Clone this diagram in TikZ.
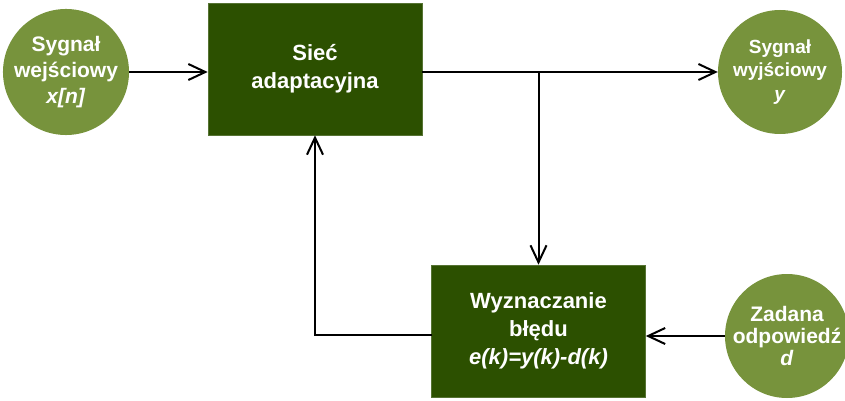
\documentclass[tikz,border=0pt]{standalone}
\usepackage{fontspec}
\setmainfont{Liberation Sans}
\usetikzlibrary{arrows.meta}
\definecolor{boxgreen}{RGB}{44,80,0}
\definecolor{sigGreen}{RGB}{119,147,60}
\tikzset{
  block/.style={rectangle, fill=boxgreen, draw=boxgreen!80!white, line width=0.6pt,
    minimum width=214, minimum height=132, inner sep=0pt, text=white,
    align=center, font=\bfseries\fontsize{22}{28}\selectfont},
  signal/.style={circle, fill=sigGreen, minimum size=124, inner sep=0pt,
    text=white, align=center},
  conn/.style={draw=black, line width=2pt},
  arr/.style={conn, -{Straight Barb[length=17pt, width=16pt, line width=2pt]}}
}
\begin{document}
\begin{tikzpicture}[x=1pt, y=-1pt]
  \useasboundingbox (0,0) rectangle (845,401);
  % blocks
  \node[block] (net) at (315,69) {Sieć\\adaptacyjna};
  \node[block] (err) at (538.5,331) {Wyznaczanie\\błędu\\\textit{e(k)=y(k)-d(k)}};
  % signals
  \node[signal, font=\bfseries\fontsize{21}{26}\selectfont] (in) at (66,72)
    {Sygnał\\wejściowy\\\textit{x[n]}};
  \node[signal, font=\bfseries\fontsize{19}{23.5}\selectfont] (out) at (780,72)
    {Sygnał\\wyjściowy\\\textit{y}};
  \node[signal, font=\bfseries\fontsize{21}{22}\selectfont] (des) at (787,336)
    {Zadana\\odpowiedź\\\textit{d}};
  % connection points
  \coordinate (branch) at (538.5,72);
  \coordinate (fb) at (432,335);
  % connectors
  \draw[arr] (in.east) -- (in.east -| net.west);
  \draw[arr] (net.east |- out.west) -- (out.west);
  \draw[arr] (branch) -- (err.north);
  \draw[arr] (fb) -| (net.south);
  \draw[arr] (des.west) -- (des.west -| err.east);
\end{tikzpicture}
\end{document}
